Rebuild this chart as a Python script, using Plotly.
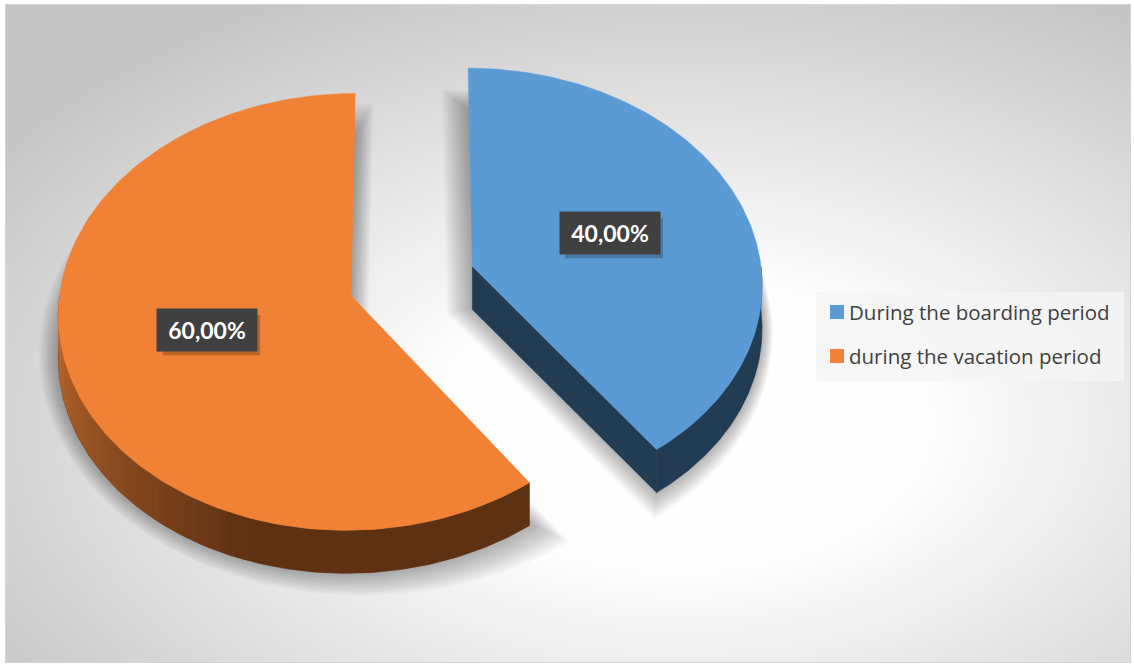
import base64
import numpy as np
import plotly.graph_objects as go

# ---- data -------------------------------------------------------------
categories = ["During the boarding period", "during the vacation period"]
shares = [40.0, 60.0]                       # percent

# ---- styling ----------------------------------------------------------
top_colors = ["#5b9bd5", "#f18235"]
side_dark = ["#223c54", "#5e3113"]
side_light = ["#223c54", "#c46c2e"]

W, H = 1134, 666
CX, CY = 412, 281        # pie centre on the page (px)
RX, RY = 290, 215        # radii of the top face (px)
PERSP = 0.074            # far half shrinks, near half grows
DEPTH = 43               # slab thickness (px)
EXPLODE = 0.22           # pull-out of each slice, in radii
LABEL_R = 0.51           # label distance from slice apex, in radii
N_ARC = 181


def project(u, v, z=0.0):
    """Map disc coordinates (u right, v away from viewer) and depth z to page px."""
    u = np.asarray(u, float)
    v = np.asarray(v, float)
    s = 1.0 / (1.0 + PERSP * v)
    return CX + RX * u * s, CY - RY * v * s + DEPTH * z


def hex_mix(c1, c2, f):
    a = [int(c1[i:i + 2], 16) for i in (1, 3, 5)]
    b = [int(c2[i:i + 2], 16) for i in (1, 3, 5)]
    m = [round(a[k] + (b[k] - a[k]) * f) for k in range(3)]
    return "#%02x%02x%02x" % tuple(m)


# ---- slice geometry (angles start at 12 o'clock, run clockwise) -------
total = sum(shares)
slices = []
start = 90.0
for i, (name, val) in enumerate(zip(categories, shares)):
    sweep = 360.0 * val / total
    a0, a1 = start, start - sweep
    mid = np.radians((a0 + a1) / 2)
    slices.append(dict(i=i, name=name, val=val, a0=a0, a1=a1, mid=mid,
                       ou=EXPLODE * np.cos(mid), ov=EXPLODE * np.sin(mid)))
    start = a1

fig = go.Figure()


def add_poly(xs, ys, color, opacity=1.0, edge=0.0):
    xs = list(xs) + [xs[0]]
    ys = list(ys) + [ys[0]]
    fig.add_trace(go.Scatter(
        x=xs, y=ys, mode="lines", fill="toself", fillcolor=color,
        line=dict(width=edge, color=color),
        opacity=opacity, hoverinfo="skip", showlegend=False))


def face_outline(s, z):
    t = np.radians(np.linspace(s["a0"], s["a1"], N_ARC))
    u = np.concatenate([[s["ou"]], s["ou"] + np.cos(t)])
    v = np.concatenate([[s["ov"]], s["ov"] + np.sin(t)])
    return project(u, v, z)


def rim_band(s, t_lo, t_hi, n=60):
    tt = np.radians(np.linspace(t_lo, t_hi, n))
    u = s["ou"] + np.cos(tt)
    v = s["ov"] + np.sin(tt)
    xa, ya = project(u, v, 0)
    xb, yb = project(u, v, 1)
    return (np.concatenate([xa, xb[::-1]]), np.concatenate([ya, yb[::-1]]))


# far slices first
order = sorted(slices, key=lambda s: -s["ov"])

# soft drop shadows
for s in order:
    x, y = face_outline(s, 0.7)
    mx, my = x.mean(), y.mean()
    for j in range(14):
        g = 1.0 + 0.009 * (j + 1)
        add_poly(mx + (x - mx) * g, my + (y - my) * g + 11,
                 "rgba(0,0,0,1)", opacity=0.024)

for s in order:
    i = s["i"]
    ou, ov = s["ou"], s["ov"]

    # radial cut faces that turn toward the viewer
    for ang, sign in ((s["a1"], 1), (s["a0"], -1)):
        if sign * np.cos(np.radians(ang)) > 1e-6:
            ex, ey = ou + np.cos(np.radians(ang)), ov + np.sin(np.radians(ang))
            x0, y0 = project(ou, ov, 0)
            x1, y1 = project(ex, ey, 0)
            x2, y2 = project(ex, ey, 1)
            x3, y3 = project(ou, ov, 1)
            add_poly([x0, x1, x2, x3], [y0, y1, y2, y3], side_dark[i], edge=0.6)

    # outer rim: only the front half (angles below the horizontal) shows
    lo = max(s["a1"], -180.0)
    hi = min(s["a0"], 0.0)
    if hi > lo:
        bx, by = rim_band(s, lo, hi, 120)
        add_poly(bx, by, side_dark[i], edge=0.6)
        # lighter shading toward the left side of the rim
        g_hi = min(hi, -108.0)
        if g_hi > lo:
            edges = np.arange(lo, g_hi + 1e-9, 1.5)
            for k in range(len(edges) - 1):
                tm = (edges[k] + edges[k + 1]) / 2
                f = np.clip((-108.0 - tm) / 72.0, 0, 1)
                c = hex_mix(side_dark[i], side_light[i], f)
                gx, gy = rim_band(s, edges[k], min(edges[k + 1] + 0.8, g_hi), 4)
                add_poly(gx, gy, c)

    # top face
    x, y = face_outline(s, 0)
    add_poly(x, y, top_colors[i], edge=0.6)

# ---- value labels ----------------------------------------------------
shapes = []
annotations = []
for s in slices:
    lx, ly = project(s["ou"] + LABEL_R * np.cos(s["mid"]),
                     s["ov"] + LABEL_R * np.sin(s["mid"]))
    lx, ly = float(lx), float(ly)
    txt = f"{s['val']:.2f}".replace(".", ",") + "%"
    shapes.append(dict(type="rect", xref="x", yref="y", layer="above",
                       x0=lx - 49 + 4, x1=lx + 49 + 4, y0=ly - 20 + 5, y1=ly + 20 + 5,
                       fillcolor="rgba(0,0,0,0.22)", line=dict(width=0)))
    annotations.append(dict(x=lx, y=ly, xref="x", yref="y", text=f"<b>{txt}</b>",
                            showarrow=False, width=98, height=40,
                            bgcolor="#404040", align="center", valign="middle",
                            font=dict(family="Lato", size=23, color="#ffffff")))

# ---- legend ------------------------------------------------------------
LEG_X0, LEG_Y0, LEG_W, LEG_H = 816, 292, 308, 89
shapes.append(dict(type="rect", xref="x", yref="y", layer="below",
                   x0=LEG_X0, x1=LEG_X0 + LEG_W, y0=LEG_Y0, y1=LEG_Y0 + LEG_H,
                   fillcolor="rgba(245,245,245,0.85)", line=dict(width=0)))
for k, (name, col) in enumerate(zip(categories, top_colors)):
    yc = LEG_Y0 + 20 + 44 * k
    shapes.append(dict(type="rect", xref="x", yref="y", layer="above",
                       x0=LEG_X0 + 14, x1=LEG_X0 + 28, y0=yc - 7, y1=yc + 7,
                       fillcolor=col, line=dict(width=0)))
    annotations.append(dict(x=LEG_X0 + 31, y=yc, xref="x", yref="y", text=name,
                            showarrow=False, xanchor="left", yanchor="middle",
                            font=dict(family="Open Sans", size=20.5, color="#404040")))

# chart-area frame
shapes.append(dict(type="rect", xref="x", yref="y", layer="above",
                   x0=5.5, x1=1130.5, y0=4.5, y1=662.5,
                   fillcolor="rgba(0,0,0,0)", line=dict(width=1, color="#d4d4d4")))

# radial light-to-grey backdrop
svg = ('<svg xmlns="http://www.w3.org/2000/svg" width="1126" height="659" '
       'preserveAspectRatio="none">'
       '<defs><radialGradient id="g" cx="0.6" cy="0.64" r="0.74">'
       '<stop offset="0" stop-color="#ffffff"/>'
       '<stop offset="0.3" stop-color="#fdfdfd"/>'
       '<stop offset="1" stop-color="#c5c5c5"/>'
       '</radialGradient></defs>'
       '<rect width="1126" height="659" fill="url(#g)"/></svg>')
bg_uri = "data:image/svg+xml;base64," + base64.b64encode(svg.encode()).decode()

fig.update_layout(
    width=W, height=H, margin=dict(l=0, r=0, t=0, b=0),
    paper_bgcolor="#ffffff", plot_bgcolor="rgba(0,0,0,0)",
    showlegend=False, hovermode=False,
    xaxis=dict(range=[0, W], visible=False, fixedrange=True),
    yaxis=dict(range=[H, 0], visible=False, fixedrange=True),
    shapes=shapes, annotations=annotations,
    images=[dict(source=bg_uri, xref="paper", yref="paper",
                 x=5 / W, y=1 - 4 / H, sizex=1126 / W, sizey=659 / H,
                 xanchor="left", yanchor="top", sizing="stretch", layer="below")],
)

fig.write_html("out.html")
